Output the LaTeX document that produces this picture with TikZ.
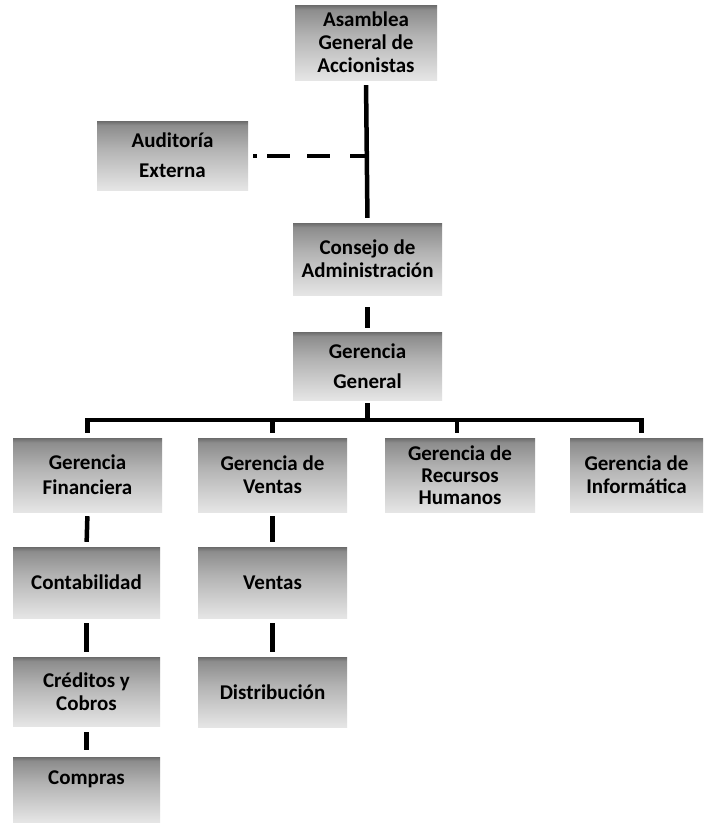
\documentclass[tikz,border=0pt]{standalone}
\usepackage{fontspec}
\setmainfont{Carlito}
\pgfdeclareverticalshading{boxshade}{100bp}{color(0bp)=(black!10); color(25bp)=(black!10); color(55bp)=(black!30); color(72bp)=(black!45); color(75bp)=(black!58); color(100bp)=(black!58)}
\begin{document}
\begin{tikzpicture}[x=1pt,y=-1pt,
  box/.style={rectangle, inner sep=0pt, align=center, font=\bfseries\fontsize{21}{23}\selectfont,
    shade, shading=boxshade, draw=none},
  conn/.style={line width=4.5pt, draw=black},
  dashline/.style={line width=4pt, draw=black, dash pattern=on 4pt off 10pt on 23pt off 17pt on 23pt off 20pt on 20pt}]
\useasboundingbox (0,0) rectangle (705,825);
\fill[white] (0,0) rectangle (705,825);
\node[box, minimum width=142pt, minimum height=75pt] (asam) at (366,42.5) {Asamblea\\General de\\Accionistas};
\node[box, minimum width=151pt, minimum height=69pt, font=\bfseries\fontsize{21}{30}\selectfont] (audit) at (172.5,155.5) {Auditoría\\Externa};
\node[box, minimum width=149pt, minimum height=72pt] (consejo) at (367.5,259) {Consejo de\\Administración};
\node[box, minimum width=149pt, minimum height=68pt, font=\bfseries\fontsize{21}{30}\selectfont] (gg) at (367.5,366) {Gerencia\\General};
\node[box, minimum width=149pt, minimum height=74pt, font=\bfseries\fontsize{21}{25}\selectfont] (fin) at (87.5,475) {Gerencia\\Financiera};
\node[box, minimum width=149pt, minimum height=74pt] (ven) at (272.5,475) {Gerencia de\\Ventas};
\node[box, minimum width=150pt, minimum height=74pt, font=\bfseries\fontsize{21}{22}\selectfont] (rrhh) at (460,475) {Gerencia de\\Recursos\\Humanos};
\node[box, minimum width=133pt, minimum height=74pt] (inf) at (636.5,475) {Gerencia de\\Informática};
\node[box, minimum width=147pt, minimum height=71pt] (cont) at (86.5,582.5) {Contabilidad};
\node[box, minimum width=149pt, minimum height=71pt] (vta) at (272.5,582.5) {Ventas};
\node[box, minimum width=147pt, minimum height=69pt] (cred) at (86.5,691.5) {Créditos y\\Cobros};
\node[box, minimum width=149pt, minimum height=70pt] (dist) at (272.5,692) {Distribución};
\node[box, minimum width=147pt, minimum height=65pt, text height=14pt, text depth=24pt] (comp) at (86.5,789.5) {Compras};
% connectors
\draw[conn, shorten <=5pt, shorten >=5pt] (asam.south) -- (consejo.north);
\draw[dashline, shorten <=5pt] (audit.east) -- (audit.east -| asam.south);
\draw[conn, shorten <=12pt, shorten >=4pt] (consejo.south) -- (gg.north);
\coordinate (bar) at (365,420);
\draw[conn, shorten <=3pt] (gg.south) -- (gg.south |- bar);
\draw[conn, shorten <=5pt, shorten >=5pt, line join=miter] (fin.north) -- (fin.north |- bar) -- ([xshift=5pt]inf.north |- bar) -- ([xshift=5pt]inf.north);
\draw[conn, shorten >=5pt] (ven.north |- bar) -- (ven.north);
\draw[conn, shorten >=5pt] ([xshift=-3pt]rrhh.north |- bar) -- ([xshift=-3pt]rrhh.north);
\draw[conn, shorten <=4pt, shorten >=5pt] (fin.south) -- (cont.north);
\draw[conn, shorten <=4pt, shorten >=5pt] (ven.south) -- (vta.north);
\draw[conn, shorten <=5pt, shorten >=5pt] (cont.south) -- (cred.north);
\draw[conn, shorten <=5pt, shorten >=5pt] (vta.south) -- (dist.north);
\draw[conn, shorten <=6pt, shorten >=7pt] (cred.south) -- (comp.north);
\end{tikzpicture}
\end{document}
